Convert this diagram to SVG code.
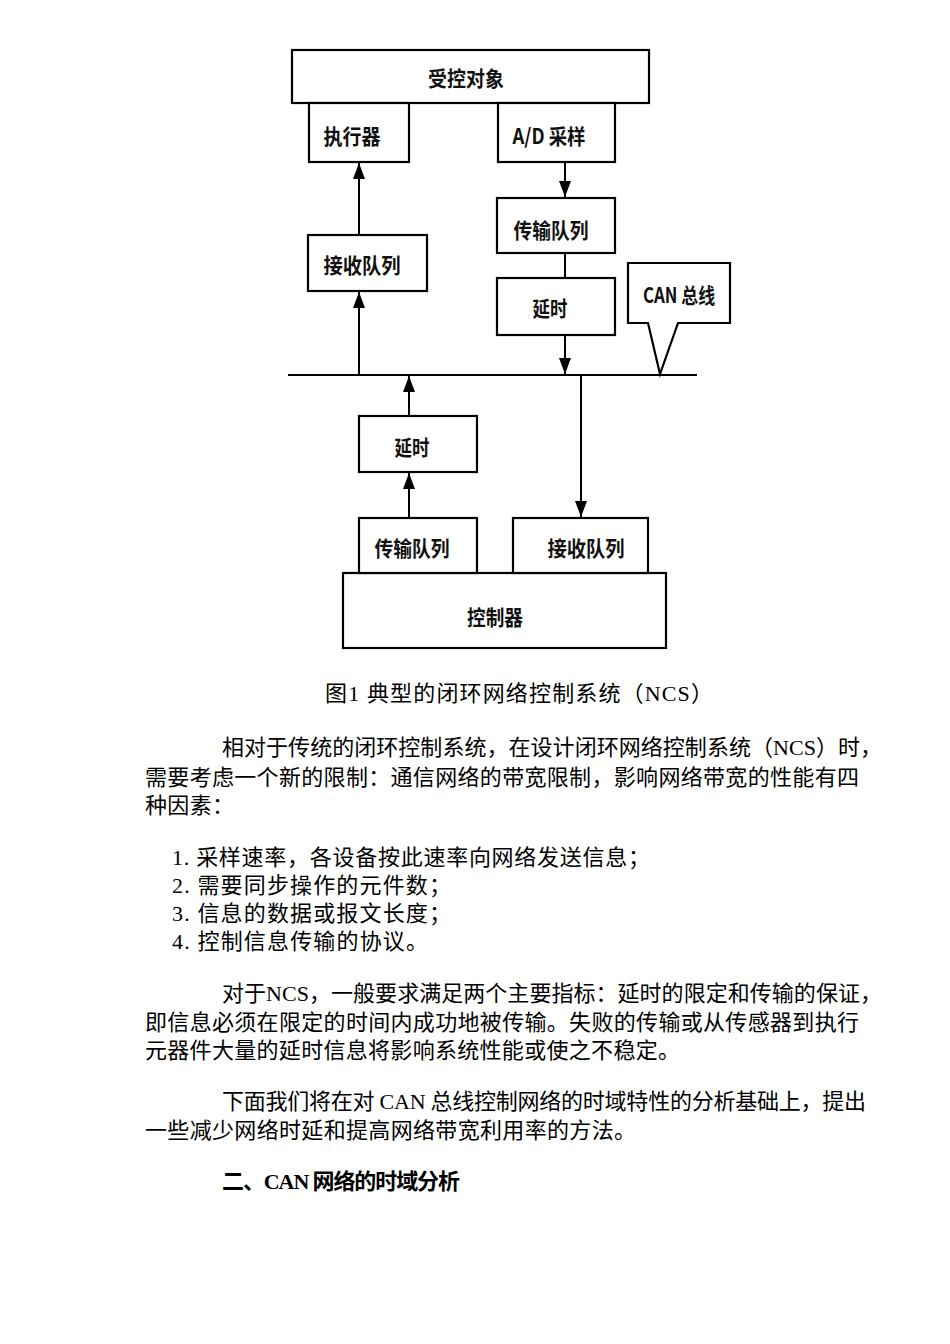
<svg xmlns="http://www.w3.org/2000/svg" width="950" height="1344" viewBox="0 0 950 1344">
<style>
.box{fill:#fff;stroke:#000;stroke-width:2.2}
.lbl{font-family:"Noto Sans CJK SC","Liberation Sans",sans-serif;font-size:21px;font-weight:bold;fill:#111;text-anchor:middle;dominant-baseline:central}
.ln{stroke:#000;stroke-width:2;fill:none}
.ah{fill:#000;stroke:none}
.body{font-family:"Liberation Serif","Noto Sans CJK SC",serif;font-size:22px;fill:#000}
</style>
<defs>
<marker id="arr" viewBox="0 0 16 12" refX="16" refY="6" markerWidth="16" markerHeight="12" markerUnits="userSpaceOnUse" orient="auto">
<path d="M0,0 L16,6 L0,12 Z" class="ah"/>
</marker>
</defs>
<rect width="950" height="1344" fill="#fff"/>

<g id="plant"><rect x="292" y="50" width="357" height="53" class="box" stroke-width="3.2"/><text x="466" y="77" class="lbl" textLength="76" lengthAdjust="spacingAndGlyphs">受控对象</text></g>
<g id="actuator"><rect x="309" y="103" width="100" height="59" class="box"/><text x="352" y="135" class="lbl" textLength="57" lengthAdjust="spacingAndGlyphs">执行器</text></g>
<g id="ad"><rect x="498" y="103" width="117" height="59" class="box"/><text x="549" y="135" class="lbl" textLength="73" lengthAdjust="spacingAndGlyphs">A/D 采样</text></g>
<g id="txq1"><rect x="497" y="198" width="118" height="55" class="box"/><text x="551" y="229" class="lbl" textLength="75" lengthAdjust="spacingAndGlyphs">传输队列</text></g>
<g id="delay1"><rect x="497" y="278" width="118" height="57" class="box"/><text x="550" y="307" class="lbl" textLength="35" lengthAdjust="spacingAndGlyphs">延时</text></g>
<g id="rxq1"><rect x="308" y="235" width="119" height="56" class="box"/><text x="362" y="264" class="lbl" textLength="77" lengthAdjust="spacingAndGlyphs">接收队列</text></g>
<g id="canbus-label"><path d="M628,263 H730 V323 H678 L660,374 L648,323 H628 Z" class="box"/><text x="679" y="294" class="lbl" textLength="72" lengthAdjust="spacingAndGlyphs">CAN 总线</text></g>
<g id="delay2"><rect x="359" y="416" width="118" height="56" class="box"/><text x="412" y="446" class="lbl" textLength="35" lengthAdjust="spacingAndGlyphs">延时</text></g>
<g id="controller"><rect x="343" y="573" width="323" height="75" class="box"/><text x="495" y="616" class="lbl" textLength="56" lengthAdjust="spacingAndGlyphs">控制器</text></g>
<g id="txq2"><rect x="359" y="518" width="118" height="55" class="box"/><text x="412" y="547" class="lbl" textLength="75" lengthAdjust="spacingAndGlyphs">传输队列</text></g>
<g id="rxq2"><rect x="513" y="518" width="135" height="55" class="box"/><text x="586" y="547" class="lbl" textLength="77" lengthAdjust="spacingAndGlyphs">接收队列</text></g>

<g id="connectors">
<line x1="288" y1="375" x2="697" y2="375" class="ln" stroke-width="2.4"/>
<line x1="359" y1="375" x2="359" y2="292" class="ln" marker-end="url(#arr)"/>
<line x1="359" y1="235" x2="359" y2="163" class="ln" marker-end="url(#arr)"/>
<line x1="565" y1="162" x2="565" y2="197" class="ln" marker-end="url(#arr)"/>
<line x1="565" y1="253" x2="565" y2="278" class="ln"/>
<line x1="565" y1="335" x2="565" y2="374" class="ln" marker-end="url(#arr)"/>
<line x1="409" y1="416" x2="409" y2="376" class="ln" marker-end="url(#arr)"/>
<line x1="409" y1="518" x2="409" y2="473" class="ln" marker-end="url(#arr)"/>
<line x1="581" y1="375" x2="581" y2="517" class="ln" marker-end="url(#arr)"/>
</g>

<g id="text">
<text x="325" y="701" class="body" textLength="388" lengthAdjust="spacing">图1 典型的闭环网络控制系统（NCS）</text>
<text x="222" y="755" class="body" textLength="660" lengthAdjust="spacing">相对于传统的闭环控制系统，在设计闭环网络控制系统（NCS）时，</text>
<text x="145" y="785" class="body" textLength="714" lengthAdjust="spacing">需要考虑一个新的限制：通信网络的带宽限制，影响网络带宽的性能有四</text>
<text x="145" y="813" class="body" textLength="89" lengthAdjust="spacing">种因素：</text>
<text x="172" y="865" class="body" textLength="478" lengthAdjust="spacing">1. 采样速率，各设备按此速率向网络发送信息；</text>
<text x="172" y="893" class="body" textLength="279" lengthAdjust="spacing">2. 需要同步操作的元件数；</text>
<text x="172" y="921" class="body" textLength="279" lengthAdjust="spacing">3. 信息的数据或报文长度；</text>
<text x="172" y="949" class="body" textLength="256" lengthAdjust="spacing">4. 控制信息传输的协议。</text>
<text x="222" y="1001" class="body" textLength="660" lengthAdjust="spacing">对于NCS，一般要求满足两个主要指标：延时的限定和传输的保证，</text>
<text x="145" y="1030" class="body" textLength="714" lengthAdjust="spacing">即信息必须在限定的时间内成功地被传输。失败的传输或从传感器到执行</text>
<text x="145" y="1058" class="body" textLength="535" lengthAdjust="spacing">元器件大量的延时信息将影响系统性能或使之不稳定。</text>
<text x="222" y="1109" class="body" textLength="644" lengthAdjust="spacing">下面我们将在对 CAN 总线控制网络的时域特性的分析基础上，提出</text>
<text x="145" y="1138" class="body" textLength="491" lengthAdjust="spacing">一些减少网络时延和提高网络带宽利用率的方法。</text>
<text x="222" y="1189" class="body" font-weight="bold" textLength="238" lengthAdjust="spacing">二、CAN 网络的时域分析</text>
</g>
</svg>
